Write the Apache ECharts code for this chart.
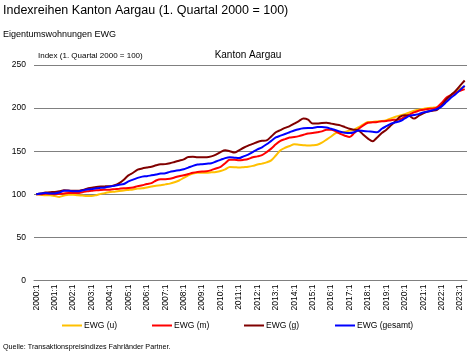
<!DOCTYPE html>
<html style="height: 100%">
<head>
    <meta charset="utf-8">
    <script src="https://cdn.jsdelivr.net/npm/echarts@6/dist/echarts.min.js"></script>
    <title>Indexreihen Kanton Aargau</title>
</head>
<body style="height: 100%; margin: 0; background: #fff">
<div id="container" style="width: 472px; height: 353px"></div>
<script type="text/javascript">

    // quarters 2000:1 .. 2023:2
    let years = [];
    for (let y = 2000; y <= 2023; y++) years.push(y);
    let quarters = [];
    years.forEach(y => { for (let q = 1; q <= 4; q++) quarters.push(y + ':' + q); });
    quarters = quarters.slice(0, 94);

    let ewgU = [
        100, 99.5, 99, 99,   98, 97, 98.5, 99.6,   99.5, 98.8, 98.5, 98,   98, 99, 100.5, 101.5,
        102.7, 103, 103.8, 104.5,   105, 105.5, 106.6, 107,   108, 109, 110, 110.4,   111.5, 112.4, 114, 116,
        119, 122, 124, 125,   125, 125, 125.5, 126,   127, 129, 131.7, 131.5,   131, 131.5, 132, 133,
        134.5, 135.6, 137, 139.4,   145, 151, 154, 156,   158, 157.5, 157, 156.5,   156.8, 157.5, 160, 163.4,
        167, 171, 172, 172.3,   174, 175, 178, 181,   183.8, 184, 184.5, 185,   186, 188, 190, 191.6,
        193, 195, 197, 198.2,   199, 200, 200.5, 201,   204, 210, 215, 219,   222.6, 225
    ];
    let ewgM = [
        100, 100, 100.5, 100.5,   100, 100.5, 101, 101.5,   101.5, 101.5, 102.5, 103.5,   104, 104.6, 105, 105.2,
        105.4, 106, 106.5, 107,   107.3, 108, 109.5, 110.5,   112, 113, 116, 117.5,   117.5, 118, 119.5, 121,
        122, 123.5, 125, 126,   126.5, 126.7, 128, 130,   131.7, 136, 140, 140,   139.4, 140, 141, 143,
        144, 145.5, 149, 153,   158, 162, 164, 165.8,   166.5, 167.5, 169, 170.5,   171, 172, 173, 175,
        175, 173, 170, 168,   166.5, 171, 176, 180,   183, 183.5, 184, 184.7,   185, 186, 186.5, 187,
        190, 192.5, 195, 197,   198, 199, 199.4, 201,   206, 212, 215, 218,   220, 222
    ];
    let ewgG = [
        100, 101, 102, 102.5,   102.7, 103.5, 104.6, 104.5,   104, 104, 105, 106.5,   107.5, 108.5, 109, 109.2,
        109.3, 110.5, 113, 117,   122, 125, 128.6, 130,   131, 132, 133.6, 134.8,   135, 136, 137.5, 139,
        140.5, 143.3, 143.5, 143,   143, 143, 144, 146,   149, 151, 150, 148.4,   151, 154, 156.5, 158.5,
        160.7, 162, 162.6, 167,   172, 174.5, 177, 179,   182, 185, 187.8, 186.5,   182, 182, 182.7, 183,
        182, 181, 180, 178,   176, 175, 174, 169,   164.6, 161.5, 166, 171,   175, 180, 185, 190,
        191.6, 191, 187.8, 191,   194, 196, 197, 198,   203, 210, 215, 220,   226, 232
    ];
    let ewgGesamt = [
        100, 101, 101.5, 101,   101, 102, 104, 104,   103.5, 103.5, 104.5, 105.5,   106, 107, 107.5, 108,
        109, 110, 111, 112,   115, 117, 119, 120.5,   121, 122, 123, 124,   124.5, 126, 127, 128,
        129, 131, 133, 134.5,   135, 135.5, 136, 138,   140, 142, 143, 142.5,   142, 144, 146, 149,
        152, 154.5, 158, 162,   166, 168, 170, 172,   174, 175.5, 176.5, 177,   177, 178, 178, 177.5,
        176, 174.5, 172.5, 171.5,   171, 172, 174, 173.5,   173, 172.5, 172, 176,   179, 182, 183.5, 185,
        188, 191, 192, 193,   195, 196, 197.5, 199,   202, 207, 212, 216,   221, 226
    ];

    let seriesNames = ['EWG (u)', 'EWG (m)', 'EWG (g)', 'EWG (gesamt)'];
    let seriesData = [ewgU, ewgM, ewgG, ewgGesamt];
    let colors = ['#FFC000', '#FF0000', '#800000', '#0000FF'];
    let legendLeft = [62, 152, 244, 335];

    const font = 'Liberation Sans, Arial, sans-serif';

    function titleText(text, left, top, size, align) {
        return {text: text, left: left, top: top, padding: 0, textAlign: align || 'left',
            textStyle: {fontSize: size, fontWeight: 'normal', color: '#000', fontFamily: font}};
    }

    let chart = echarts.init(document.getElementById('container'));
    chart.setOption({
        animation: false,
        color: colors,
        textStyle: {fontFamily: font},
        title: [
            titleText('Indexreihen Kanton Aargau (1. Quartal 2000 = 100)', 3, 4, 12.5),
            titleText('Eigentumswohnungen EWG', 3, 30, 9),
            titleText('Index (1. Quartal 2000 = 100)', 38, 52, 8),
            titleText('Kanton Aargau', 248, 50, 10, 'center'),
            titleText('Quelle: Transaktionspreisindizes Fahrländer Partner.', 3, 344, 7.2)
        ],
        legend: seriesNames.map((n, i) => ({
            data: [n], left: legendLeft[i], top: 321, padding: 0,
            icon: 'rect', itemWidth: 20, itemHeight: 2, itemGap: 2,
            textStyle: {fontSize: 8.5, color: '#000', fontFamily: font, padding: [0, 0, 0, -3]}
        })),
        grid: {left: 34, right: 5, top: 65, bottom: 72.5, containLabel: false},
        xAxis: {
            type: 'category',
            data: quarters,
            boundaryGap: true,
            axisLine: {show: true, lineStyle: {color: '#808080', width: 1}},
            axisTick: {show: false},
            axisLabel: {interval: 3, rotate: 90, fontSize: 8.5, color: '#000', margin: 4, fontFamily: font}
        },
        yAxis: {
            type: 'value',
            min: 0, max: 250, interval: 50,
            axisLine: {show: false},
            axisTick: {show: false},
            axisLabel: {fontSize: 8.5, color: '#000', margin: 8, fontFamily: font},
            splitLine: {lineStyle: {color: '#808080', width: 1}}
        },
        series: seriesNames.map((n, i) => ({
            name: n,
            type: 'line',
            data: seriesData[i],
            symbol: 'none',
            smooth: 0.3,
            lineStyle: {width: 2, color: colors[i]}
        }))
    });

</script>
</body>
</html>
